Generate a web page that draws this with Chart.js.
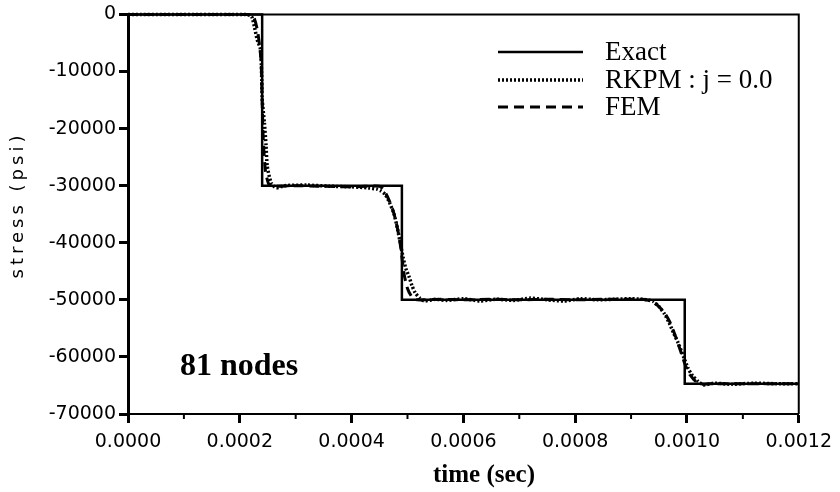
<!DOCTYPE html>
<html>
<head>
<meta charset="utf-8">
<script src="https://cdn.jsdelivr.net/npm/chart.js@4.4.1/dist/chart.umd.min.js"></script>
<style>
  body { margin: 0; background: #fff; }
</style>
</head>
<body>
<canvas id="myChart" width="840" height="492"></canvas>
<script>
// Exact solution: step function
const exact_t = [0, 0.00024, 0.00024, 0.00049, 0.00049, 0.000996, 0.000996, 0.0012];
const exact_s = [0, 0, -30000, -30000, -50000, -50000, -64700, -64700];

// RKPM : j = 0.0
const rkpm_t = [0, 0.00021, 0.000221, 0.000226, 0.000231, 0.000237, 0.000239, 0.00024, 0.000244, 0.000247, 0.000249, 0.000256, 0.000265, 0.00028,
  0.00032, 0.00036, 0.0004, 0.00043, 0.000445, 0.000452, 0.00046, 0.000468, 0.000476, 0.000482, 0.000487, 0.000492, 0.000497, 0.000503, 0.000508, 0.000514, 0.000522, 0.00053,
  0.00055, 0.00057, 0.0006, 0.00063, 0.00066, 0.00069, 0.00072, 0.00075, 0.00078, 0.00081, 0.00084, 0.00087, 0.0009, 0.00092,
  0.00093, 0.00094, 0.00095, 0.00096, 0.000968, 0.000976, 0.000984, 0.00099, 0.000996, 0.001002, 0.00101, 0.00102, 0.00103, 0.00105, 0.00108, 0.00112, 0.00116, 0.0012];
const rkpm_s = [0, 0, -350, -2100, -4400, -6100, -10300, -14800, -19000, -23000, -26500, -29500, -30400, -30000,
  -29900, -30100, -30200, -30400, -30600, -30900, -31500, -33000, -35000, -37500, -40000, -42500, -44500, -46000, -47500, -48800, -49700, -50200,
  -49900, -50100, -49800, -50200, -49900, -50100, -49700, -50000, -50200, -49800, -50000, -49900, -49800, -49900,
  -50000, -50300, -51200, -52500, -54000, -55800, -57500, -59000, -60500, -62000, -63300, -64300, -64900, -64600, -64800, -64600, -64700, -64700];

// FEM
const fem_t = [0, 0.000215, 0.000225, 0.000232, 0.000238, 0.00024, 0.000242, 0.000246, 0.000252, 0.00026, 0.0003,
  0.00035, 0.0004, 0.00045, 0.000458, 0.000466, 0.000474, 0.00048, 0.000486, 0.00049, 0.000494, 0.0005, 0.000508, 0.000518,
  0.00056, 0.0006, 0.00065, 0.0007, 0.00075, 0.0008, 0.00085, 0.0009, 0.00092,
  0.000935, 0.000948, 0.00096, 0.00097, 0.000978, 0.000986, 0.000992, 0.000998, 0.001006, 0.001016, 0.001028, 0.00104, 0.0011, 0.0012];
const fem_s = [0, 0, -500, -3000, -8000, -15000, -22000, -27500, -29800, -30100, -30000,
  -30100, -30200, -30100, -30800, -32300, -34300, -36500, -39500, -42500, -45500, -48000, -49500, -50000,
  -49900, -50000, -49900, -50000, -49900, -50000, -49900, -49900, -49900,
  -50200, -51000, -52300, -54000, -56000, -58200, -60000, -61700, -63200, -64300, -64800, -64700, -64700, -64700];

// axis ticks
const y_ticks = [0, -10000, -20000, -30000, -40000, -50000, -60000, -70000];
const x_major = [0, 0.0002, 0.0004, 0.0006, 0.0008, 0.0010, 0.0012];
const x_minor = [0.0001, 0.0003, 0.0005, 0.0007, 0.0009, 0.0011];

const legend_names = ["Exact", "RKPM : j = 0.0", "FEM"];

function pts(t, s) {
  return t.map((v, i) => ({ x: v, y: s[i] }));
}

const extras = {
  id: 'extras',
  afterDraw(chart) {
    const ctx = chart.ctx;
    const a = chart.chartArea;
    const xs = chart.scales.x;
    ctx.save();
    ctx.strokeStyle = '#000';
    // frame top + right
    ctx.lineWidth = 2;
    ctx.beginPath();
    ctx.moveTo(a.left, a.top);
    ctx.lineTo(a.right, a.top);
    ctx.lineTo(a.right, a.bottom);
    ctx.stroke();
    // minor x ticks
    ctx.lineWidth = 2;
    x_minor.forEach(v => {
      const px = xs.getPixelForValue(v);
      ctx.beginPath();
      ctx.moveTo(px, a.bottom);
      ctx.lineTo(px, a.bottom + 5);
      ctx.stroke();
    });

    // y title
    ctx.fillStyle = '#000';
    ctx.save();
    ctx.translate(18, 205);
    ctx.rotate(-Math.PI / 2);
    ctx.font = '18px "DejaVu Sans"';
    ctx.letterSpacing = '4px';
    ctx.textAlign = 'center';
    ctx.textBaseline = 'middle';
    ctx.fillText('stress (psi)', 0, 0);
    ctx.restore();

    // x title
    ctx.font = 'bold 25px "Liberation Serif"';
    ctx.textAlign = 'center';
    ctx.textBaseline = 'alphabetic';
    ctx.fillText('time (sec)', 484, 482);

    // annotation
    ctx.font = 'bold 32px "Liberation Serif"';
    ctx.textAlign = 'left';
    ctx.fillText('81 nodes', 180, 375);

    // legend
    const rows = [52, 80, 107];
    chart.data.datasets.forEach((ds, i) => {
      ctx.save();
      ctx.lineWidth = ds.borderWidth;
      ctx.setLineDash(ds.borderDash || []);
      ctx.beginPath();
      ctx.moveTo(498, rows[i]);
      ctx.lineTo(583, rows[i]);
      ctx.stroke();
      ctx.restore();
      ctx.font = '27px "Liberation Serif"';
      ctx.textBaseline = 'middle';
      ctx.fillText(ds.label, 605, rows[i] + 1);
    });
    ctx.restore();
  }
};

new Chart(document.getElementById('myChart').getContext('2d'), {
  type: 'line',
  data: {
    datasets: [
      { label: legend_names[0], data: pts(exact_t, exact_s), borderColor: '#000', borderWidth: 2.5, pointRadius: 0, tension: 0, clip: 4 },
      { label: legend_names[1], data: pts(rkpm_t, rkpm_s), borderColor: '#000', borderWidth: 3.5, borderDash: [2, 2], pointRadius: 0, tension: 0.2, clip: 4 },
      { label: legend_names[2], data: pts(fem_t, fem_s), borderColor: '#000', borderWidth: 3, borderDash: [10, 6], pointRadius: 0, tension: 0.2, clip: 4 }
    ]
  },
  options: {
    responsive: false,
    animation: false,
    layout: { padding: { left: 0, right: 39, top: 13, bottom: 0 } },
    plugins: { legend: { display: false }, tooltip: { enabled: false } },
    scales: {
      x: {
        type: 'linear',
        min: 0, max: 0.0012,
        afterFit: s => { s.height = 78; },
        afterBuildTicks: s => { s.ticks = x_major.map(v => ({ value: v })); },
        ticks: {
          color: '#000',
          font: { family: 'DejaVu Sans', size: 19 },
          padding: 8,
          maxRotation: 0,
          callback: v => Number(v).toFixed(4)
        },
        grid: { drawOnChartArea: false, tickLength: 9, tickWidth: 3, tickColor: '#000' },
        border: { color: '#000', width: 2 }
      },
      y: {
        min: -70000, max: 0,
        afterFit: s => { s.width = 128; },
        afterBuildTicks: s => { s.ticks = y_ticks.map(v => ({ value: v })); },
        ticks: {
          color: '#000',
          font: { family: 'DejaVu Sans', size: 19 },
          padding: 3,
          callback: v => String(v)
        },
        grid: { drawOnChartArea: false, tickLength: 9, tickWidth: 3, tickColor: '#000' },
        border: { color: '#000', width: 3 }
      }
    }
  },
  plugins: [extras]
});
</script>
</body>
</html>
